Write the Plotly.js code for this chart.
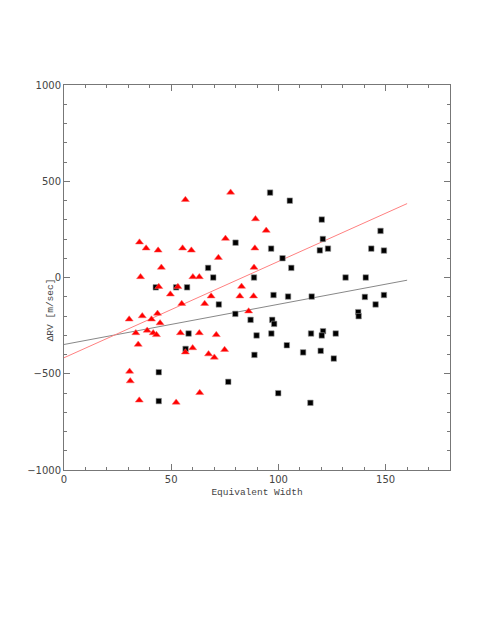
<!DOCTYPE html>
<html>
<head>
<meta charset="utf-8">
<script src="https://cdn.plot.ly/plotly-3.0.1.min.js"></script>
<style>html,body{margin:0;padding:0;background:#fff;}#chart{width:491px;height:635px;}</style>
</head>
<body>
<div id="chart"></div>
<script>
// Red triangles: equivalent width vs ΔRV
const triX = [56.6, 35.2, 38.3, 43.9, 55.3, 59.4, 72.0, 45.4, 35.7, 60.1, 63.1, 44.2, 53.1, 49.6, 68.6, 54.9, 65.6, 30.4, 36.5, 43.6, 40.8, 44.8, 33.5, 38.8, 41.6, 43.1, 54.3, 63.1, 71.0, 34.6, 60.0, 56.6, 67.4, 70.1, 30.6, 30.9, 63.3, 35.1, 52.3, 77.7, 89.3, 94.3, 75.3, 89.0, 88.6, 82.8, 82.0, 88.4, 86.1, 74.9];
const triY = [404, 183, 152, 141, 152, 141, 103, 52, 3, 3, 3, -48, -48, -87, -97, -136, -136, -217, -200, -187, -217, -237, -288, -275, -288, -298, -288, -288, -298, -348, -366, -388, -398, -415, -488, -538, -599, -638, -649, 442, 304, 244, 202, 152, 52, -47, -97, -97, -175, -375];
// Black squares
const sqX = [67.2, 69.6, 42.8, 52.3, 57.4, 58.1, 56.7, 44.2, 44.2, 72.2, 96.1, 105.3, 80.0, 96.6, 101.9, 106.0, 88.6, 97.7, 104.5, 115.5, 79.9, 87.0, 97.1, 98.0, 89.8, 96.7, 115.2, 103.9, 111.5, 88.8, 76.6, 99.9, 114.9, 120.2, 120.7, 119.3, 123.1, 147.6, 143.3, 149.2, 131.3, 140.7, 140.3, 149.2, 145.3, 137.2, 137.4, 120.8, 120.2, 126.7, 119.7, 125.8];
const sqY = [50, 0, -51, -51, -51, -291, -371, -492, -642, -140, 441, 399, 181, 150, 100, 50, 0, -91, -99, -99, -189, -220, -220, -241, -301, -291, -291, -352, -389, -402, -542, -601, -651, 301, 200, 141, 150, 242, 150, 140, 0, 0, -101, -91, -140, -180, -201, -279, -301, -291, -381, -421];
// Linear fits
const fitX = [0, 160];
const redFitY = [-417, 384];
const blackFitY = [-348, -14];

const axisColor = '#777';
const tickFont = {family: 'DejaVu Sans, sans-serif', size: 10, color: '#444'};
const titleFont = {family: 'Liberation Mono, monospace', size: 9.5, color: '#444'};

const traces = [
  {x: fitX, y: blackFitY, mode: 'lines', line: {color: '#888', width: 1}, hoverinfo: 'skip'},
  {x: fitX, y: redFitY, mode: 'lines', line: {color: '#ff8080', width: 1}, hoverinfo: 'skip'},
  {x: sqX, y: sqY, mode: 'markers', marker: {symbol: 'square', size: 5.5, color: '#000', line: {color: '#999', width: 0.6}}},
  {x: triX, y: triY, mode: 'markers', marker: {symbol: 'triangle-up', size: 7, color: '#ff0000', line: {color: '#ff6060', width: 0.5}}}
];

const layout = {
  width: 491, height: 635,
  margin: {l: 64, r: 41, t: 85, b: 165},
  showlegend: false,
  paper_bgcolor: '#fff', plot_bgcolor: '#fff',
  xaxis: {
    range: [0, 180], dtick: 50, tick0: 0,
    showgrid: false, zeroline: false,
    showline: true, linecolor: axisColor, linewidth: 1, mirror: 'allticks',
    ticks: 'inside', ticklen: 6, tickcolor: axisColor, tickwidth: 1,
    minor: {dtick: 10, ticks: 'inside', ticklen: 3, tickcolor: axisColor, showgrid: false},
    tickfont: tickFont,
    title: {text: 'Equivalent Width', font: titleFont, standoff: 4}
  },
  yaxis: {
    range: [-1000, 1000], dtick: 500, tick0: 0,
    showgrid: false, zeroline: false,
    showline: true, linecolor: axisColor, linewidth: 1, mirror: 'allticks',
    ticks: 'inside', ticklen: 6, tickcolor: axisColor, tickwidth: 1,
    minor: {dtick: 100, ticks: 'inside', ticklen: 3, tickcolor: axisColor, showgrid: false},
    tickfont: tickFont
  },
  annotations: [{
    text: 'ΔRV [m/sec]', xref: 'paper', yref: 'paper', x: -0.036, y: 0.415,
    xanchor: 'center', yanchor: 'middle', textangle: -90, showarrow: false, font: titleFont
  }]
};

Plotly.newPlot('chart', traces, layout, {staticPlot: true, displayModeBar: false});
</script>
</body>
</html>
